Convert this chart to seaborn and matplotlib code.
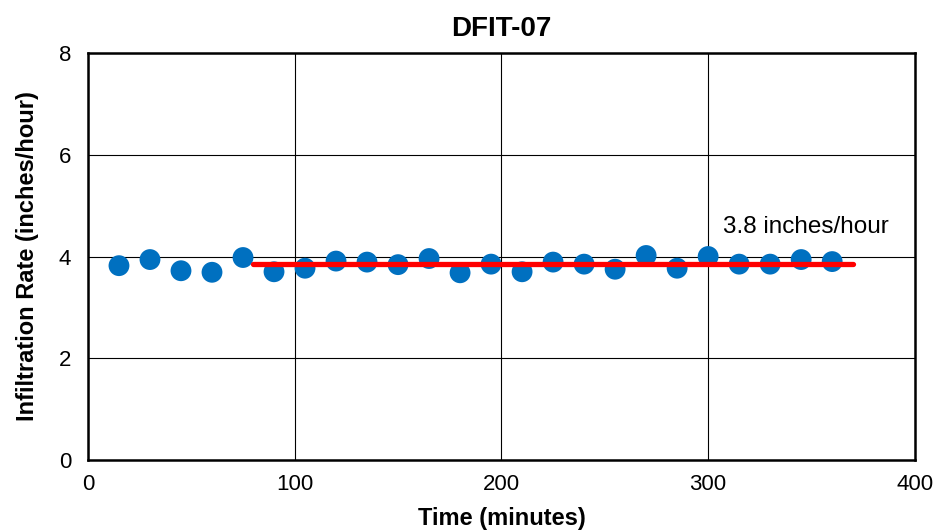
import numpy as np
import pandas as pd
import matplotlib
matplotlib.use('Agg')
import matplotlib.pyplot as plt
from matplotlib.ticker import MultipleLocator
import seaborn as sns

# Infiltration test readings
time_min = [15, 30, 45, 60, 75, 90, 105, 120, 135, 150, 165, 180,
            195, 210, 225, 240, 255, 270, 285, 300, 315, 330, 345, 360]
rate = [3.82, 3.94, 3.72, 3.69, 3.98, 3.70, 3.77, 3.91, 3.89, 3.84, 3.96, 3.68,
        3.85, 3.70, 3.89, 3.85, 3.75, 4.02, 3.77, 4.00, 3.85, 3.85, 3.94, 3.90]

# Steady-state fit line
fit_x = [80, 370]
fit_y = [3.85, 3.85]
fit_label = '3.8 inches/hour'
title = 'DFIT-07'

df = pd.DataFrame({'Time': time_min, 'Rate': rate})
fit_df = pd.DataFrame({'Time': fit_x, 'Rate': fit_y})

sns.set_style('white')
plt.rcParams['font.family'] = ['Liberation Sans', 'DejaVu Sans']
plt.rcParams['text.color'] = 'black'
plt.rcParams['axes.labelcolor'] = 'black'
plt.rcParams['xtick.color'] = 'black'
plt.rcParams['ytick.color'] = 'black'

fig = plt.figure(figsize=(9.51, 5.32), dpi=100)
ax = fig.add_axes([0.0925, 0.1353, 0.8695, 0.7651])

sns.scatterplot(data=df, x='Time', y='Rate', ax=ax, s=225, color='#0070C0',
                edgecolor='none', zorder=3)
sns.lineplot(data=fit_df, x='Time', y='Rate', ax=ax, color='#FF0000',
             linewidth=3.8, zorder=4)

ax.text(307, 4.58, fit_label, fontsize=17.5, color='black', va='center')

ax.set_xlim(0, 400)
ax.set_ylim(0, 8)
ax.xaxis.set_major_locator(MultipleLocator(100))
ax.xaxis.set_minor_locator(MultipleLocator(50))
ax.yaxis.set_major_locator(MultipleLocator(2))
ax.yaxis.set_minor_locator(MultipleLocator(0.5))
ax.tick_params(which='both', direction='in', color='black', labelsize=16)
ax.tick_params(which='major', length=0)
ax.tick_params(axis='x', which='major', pad=10)
ax.tick_params(axis='y', which='major', pad=12)
ax.tick_params(which='minor', length=5, width=1.5)
ax.grid(True, which='major', color='black', linewidth=0.8)

for sp in ax.spines.values():
    sp.set_color('black')
    sp.set_linewidth(1.8)

ax.set_xlabel('Time (minutes)', fontsize=17, fontweight='bold', labelpad=9)
ax.set_ylabel('Infiltration Rate (inches/hour)', fontsize=17, fontweight='bold', labelpad=14)
ax.set_title(title, fontsize=20, fontweight='bold', pad=12)

fig.savefig('out.png', dpi=100)
